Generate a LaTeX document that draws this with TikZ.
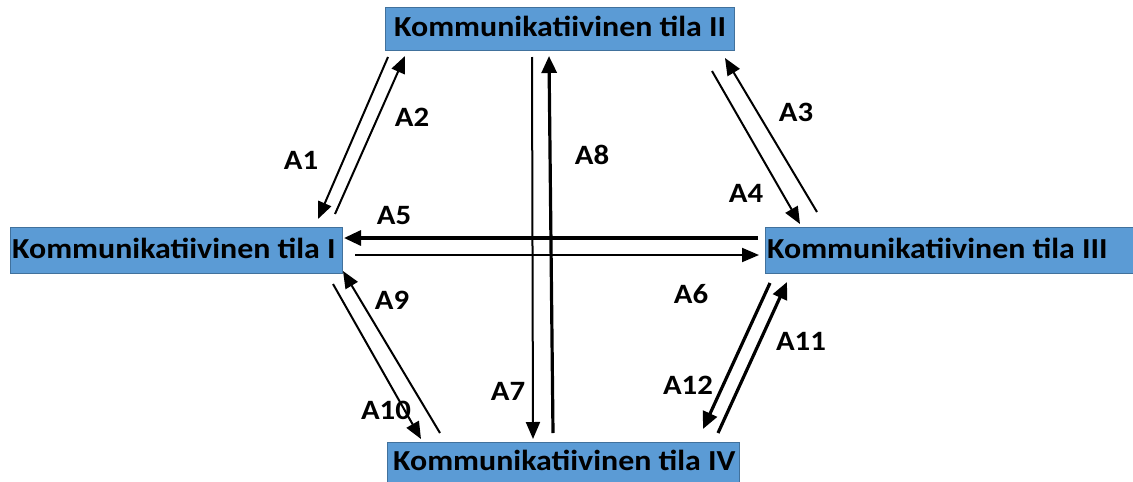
\documentclass[tikz,border=0pt]{standalone}
\usepackage{fontspec}
\setmainfont{Carlito}
\usetikzlibrary{arrows.meta}
\definecolor{boxblue}{HTML}{5B9BD5}
\definecolor{boxedge}{HTML}{41719C}
\newcommand{\wide}[1]{\scalebox{1.1}[1]{#1}}
\tikzset{
  statebox/.style={draw=boxedge, line width=0.8pt, fill=boxblue, inner sep=0pt, anchor=north west},
  boxtext/.style={font=\bfseries\fontsize{29}{32}\selectfont, inner sep=0pt, anchor=west},
  thin arrow/.style={line width=2pt, -{Triangle[length=17pt,width=14pt]}},
  thick arrow/.style={line width=3.2pt, -{Triangle[length=17pt,width=15pt]}},
  lbl/.style={font=\bfseries\fontsize{28}{30}\selectfont, inner sep=0pt}
}
\begin{document}
\begin{tikzpicture}[x=1pt,y=-1pt]
\useasboundingbox (0,0) rectangle (1133,482);
% boxes
\node[statebox, minimum width=349pt, minimum height=43pt] (s2) at (385,7) {};
\node[boxtext] (t2) at ([xshift=9pt,yshift=2pt]s2.west) {\wide{Kommunikatiivinen tila II}};
\node[statebox, minimum width=332pt, minimum height=46pt] (s1) at (10,227) {};
\node[boxtext] (t1) at ([xshift=2pt,yshift=2pt]s1.west) {\wide{Kommunikatiivinen tila I}};
\node[statebox, minimum width=368pt, minimum height=46pt] (s3) at (765,227) {};
\node[boxtext] (t3) at ([xshift=2pt,yshift=2pt]s3.west) {\wide{Kommunikatiivinen tila III}};
\node[statebox, minimum width=352pt, minimum height=45pt] (s4) at (387,442) {};
\node[boxtext] (t4) at ([xshift=6pt,yshift=4pt]s4.west) {\wide{Kommunikatiivinen tila IV}};
% endpoints
\coordinate (a1s) at (388,57);  \coordinate (a1e) at (318,219);
\coordinate (a2s) at (335,214); \coordinate (a2e) at (405,56);
\coordinate (a3s) at (817,212); \coordinate (a3e) at (725,58);
\coordinate (a4s) at (712,71);  \coordinate (a4e) at (800,224);
\coordinate (a5s) at (758,238); \coordinate (a5e) at (344,238);
\coordinate (a6s) at (355,255); \coordinate (a6e) at (759,255);
\coordinate (a7s) at (532,57);  \coordinate (a7e) at (533,439);
\coordinate (a8s) at (553,433); \coordinate (a8e) at (549,56);
\coordinate (a9s) at (440,433); \coordinate (a9e) at (343,271);
\coordinate (a10s) at (333,284); \coordinate (a10e) at (421,439);
\coordinate (a11s) at (718,433); \coordinate (a11e) at (787,282);
\coordinate (a12s) at (770,283); \coordinate (a12e) at (703,429);
% arrows
\draw[thin arrow] (a1s) -- (a1e);
\draw[thin arrow] (a2s) -- (a2e);
\draw[thin arrow] (a3s) -- (a3e);
\draw[thin arrow] (a4s) -- (a4e);
\draw[thick arrow] (a5s) -- (a5e);
\draw[thin arrow] (a6s) -- (a6e);
\draw[thin arrow] (a7s) -- (a7e);
\draw[thick arrow] (a8s) -- (a8e);
\draw[thin arrow] (a9s) -- (a9e);
\draw[thin arrow] (a10s) -- (a10e);
\draw[thick arrow] (a11s) -- (a11e);
\draw[thick arrow] (a12s) -- (a12e);
% labels
\node[lbl] (l1) at (301,160) {\wide{A1}};
\node[lbl] (l2) at (412,117) {\wide{A2}};
\node[lbl] (l3) at (796,112) {\wide{A3}};
\node[lbl] (l4) at (746,193) {\wide{A4}};
\node[lbl] (l5) at (394,216) {\wide{A5}};
\node[lbl] (l6) at (691,294) {\wide{A6}};
\node[lbl] (l7) at (508,391) {\wide{A7}};
\node[lbl] (l8) at (592,155) {\wide{A8}};
\node[lbl] (l9) at (392,300) {\wide{A9}};
\node[lbl] (l10) at (386,410) {\wide{A10}};
\node[lbl] (l11) at (801,341) {\wide{A11}};
\node[lbl] (l12) at (688,385) {\wide{A12}};
\end{tikzpicture}
\end{document}
